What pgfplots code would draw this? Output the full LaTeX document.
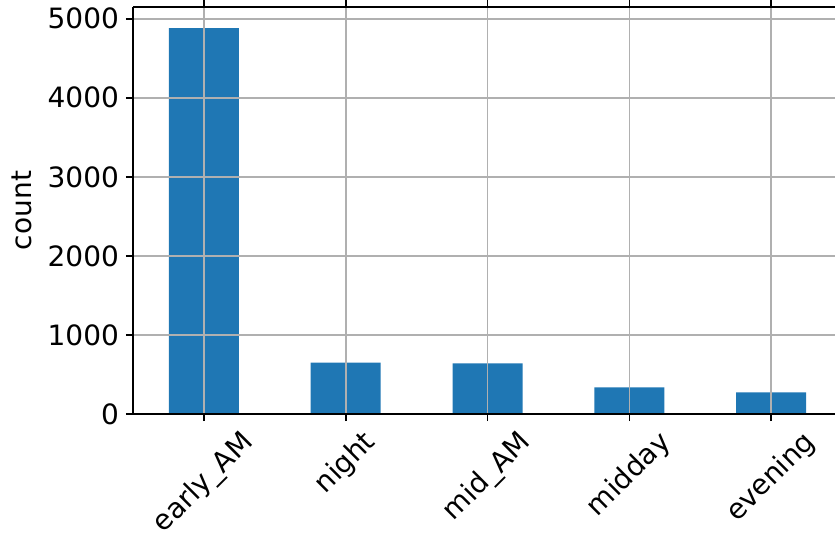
\documentclass[border=0pt]{standalone}
\usepackage{fontspec}
\setmainfont{DejaVu Sans}
\usepackage{pgfplots}
\pgfplotsset{compat=1.18}
\usetikzlibrary{calc}
\definecolor{mplblue}{HTML}{1F77B4}
\definecolor{gridgray}{HTML}{B0B0B0}

\begin{document}
\begin{tikzpicture}
\begin{axis}[
    name=ax,
    scale only axis,
    width=351pt,
    height=203.5pt,
    font=\fontsize{14}{16}\selectfont,
    /pgf/number format/assume math mode=true,
    ybar,
    bar width=35pt,
    bar shift=0pt,
    xmin=-0.5, xmax=4.45,
    ymin=0, ymax=5148,
    xtick=data,
    xticklabels={\rotatebox{45}{early\_AM},\rotatebox{45}{night},\rotatebox{45}{mid\_AM},\rotatebox{45}{midday},\rotatebox{45}{evening}},
    x tick label style={anchor=north, inner sep=0pt, yshift=-3.5pt},
    ytick={0,1000,2000,3000,4000,5000},
    scaled y ticks=false,
    y tick label style={/pgf/number format/.cd, 1000 sep={}},
    ylabel={count},
    every axis y label/.style={at={(axis description cs:0,0.5)}, xshift=-55.5pt, rotate=90, anchor=center},
    axis x line*=box,
    axis y line*=left,
    axis line style={line width=0.8pt, black},
    tick align=outside,
    major tick length=3.5pt,
    tick style={line width=0.8pt, black},
    xmajorgrids=true,
    ymajorgrids=true,
    major grid style={line width=0.8pt, gridgray},
    axis on top,
]
\addplot[fill=mplblue, draw=none] coordinates {
    (0, 4882)
    (1, 649)
    (2, 641)
    (3, 338)
    (4, 275)
};
\end{axis}
\pgfresetboundingbox
\path[use as bounding box] ($(ax.south west)+(-66.5pt,-61pt)$) rectangle ($(ax.north east)+(0,3.5pt)$);
\end{tikzpicture}
\end{document}
